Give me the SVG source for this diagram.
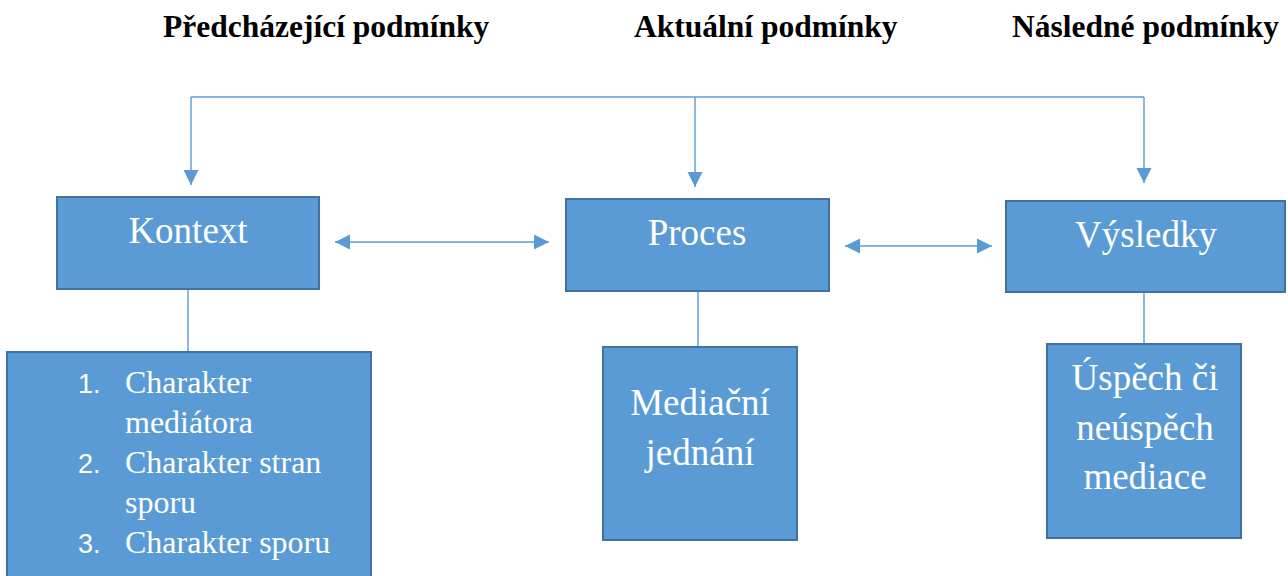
<svg xmlns="http://www.w3.org/2000/svg" width="1288" height="576" viewBox="0 0 1288 576">
<defs>
<style>
.box{fill:#5B9BD5;stroke:#41719C;stroke-width:2}
.ln{stroke:#5B9BD5;stroke-width:1.4;fill:none}
.hd{font-family:"Liberation Serif",serif;font-weight:bold;font-size:31.5px;fill:#000000}
.tt{font-family:"Times New Roman","Liberation Serif",Tinos,"Nimbus Roman","DejaVu Serif",serif;font-weight:normal;font-style:normal;font-size:37px;fill:#ffffff;text-anchor:middle}
.li{font-family:"Times New Roman","Liberation Serif",Tinos,"Nimbus Roman","DejaVu Serif",serif;font-weight:normal;font-size:32px;fill:#ffffff}
.num{font-family:"Liberation Sans",sans-serif;font-size:27px;fill:#ffffff}
</style>
<marker id="ah" markerUnits="userSpaceOnUse" markerWidth="16" markerHeight="16" viewBox="0 0 16 16" refX="15" refY="8" orient="auto-start-reverse">
<path d="M0,0.5 L15,8 L0,15.5 z" fill="#5B9BD5"/>
</marker>
</defs>
<rect width="1288" height="576" fill="#ffffff"/>
<g id="headers">
<text class="hd" x="163" y="37">Předcházející podmínky</text>
<text class="hd" x="634" y="37">Aktuální podmínky</text>
<text class="hd" x="1012" y="37">Následné podmínky</text>
</g>
<g id="connectors">
<path class="ln" d="M191,97 H1144"/>
<path class="ln" d="M191,97 V185" marker-end="url(#ah)"/>
<path class="ln" d="M695,97 V187" marker-end="url(#ah)"/>
<path class="ln" d="M1144,97 V183" marker-end="url(#ah)"/>
<path class="ln" d="M335,242 H549" marker-start="url(#ah)" marker-end="url(#ah)"/>
<path class="ln" d="M845,246 H992" marker-start="url(#ah)" marker-end="url(#ah)"/>
<path class="ln" d="M188,290 V352"/>
<path class="ln" d="M698,292 V347"/>
<path class="ln" d="M1144,293 V344"/>
</g>
<g id="kontext">
<rect class="box" x="57" y="197" width="262" height="92"/>
<text class="tt" x="188" y="243">Kontext</text>
</g>
<g id="proces">
<rect class="box" x="566" y="199" width="263" height="92"/>
<text class="tt" x="697" y="245">Proces</text>
</g>
<g id="vysledky">
<rect class="box" x="1006" y="201" width="279" height="91"/>
<text class="tt" x="1146" y="247">Výsledky</text>
</g>
<g id="kontext-list">
<rect class="box" x="7" y="352" width="364" height="240"/>
<text class="num" x="78" y="393">1.</text>
<text class="li" x="125" y="393">Charakter</text>
<text class="li" x="125" y="433">mediátora</text>
<text class="num" x="78" y="473">2.</text>
<text class="li" x="125" y="473">Charakter stran</text>
<text class="li" x="125" y="513">sporu</text>
<text class="num" x="78" y="553">3.</text>
<text class="li" x="125" y="553">Charakter sporu</text>
</g>
<g id="mediacni">
<rect class="box" x="603" y="347" width="194" height="193"/>
<text class="tt" x="700" y="415">Mediační</text>
<text class="tt" x="700" y="465">jednání</text>
</g>
<g id="uspech">
<rect class="box" x="1047" y="344" width="194" height="194"/>
<text class="tt" x="1145" y="390">Úspěch či</text>
<text class="tt" x="1145" y="440">neúspěch</text>
<text class="tt" x="1145" y="489">mediace</text>
</g>
</svg>
